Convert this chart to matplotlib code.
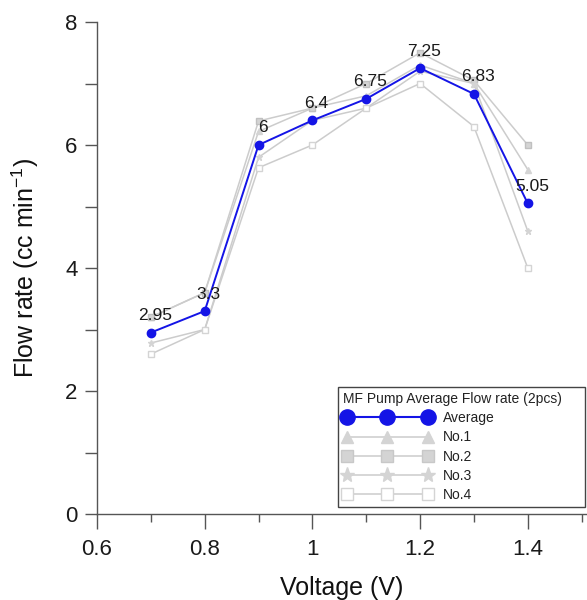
import matplotlib
matplotlib.use("Agg")
import matplotlib.pyplot as plt
from matplotlib.lines import Line2D
from matplotlib.ticker import MultipleLocator

plt.rcParams['font.family'] = ['Liberation Sans', 'DejaVu Sans']
plt.rcParams['mathtext.fontset'] = 'custom'
plt.rcParams['mathtext.rm'] = 'Liberation Sans'

voltage = [0.7, 0.8, 0.9, 1.0, 1.1, 1.2, 1.3, 1.4]
average = [2.95, 3.3, 6.0, 6.4, 6.75, 7.25, 6.83, 5.05]
no1 = [3.2, 3.6, 6.22, 6.6, 6.8, 7.3, 7.0, 5.6]
no2 = [3.2, 3.6, 6.39, 6.6, 7.0, 7.5, 7.05, 6.0]
no3 = [2.78, 3.0, 5.8, 6.4, 6.6, 7.2, 7.0, 4.6]
no4 = [2.6, 3.0, 5.63, 6.0, 6.6, 7.0, 6.3, 4.0]
avg_labels = ["2.95", "3.3", "6", "6.4", "6.75", "7.25", "6.83", "5.05"]
legend_title = "MF Pump Average Flow rate (2pcs)"
names = ["Average", "No.1", "No.2", "No.3", "No.4"]

fig = plt.figure(figsize=(5.87, 6.0), dpi=100)
ax = fig.add_axes([97 / 587, 86 / 600, 490 / 587, 492 / 600])

gline = '#cccccc'
gmark = '#d4d4d4'
blue = '#1414e6'

ax.plot(voltage, no1, color=gline, lw=1.1, marker='^', ms=4, mfc=gmark, mec=gmark, zorder=2)
ax.plot(voltage, no2, color=gline, lw=1.1, marker='s', ms=4, mfc=gmark, mec='#c0c0c0', zorder=2)
ax.plot(voltage, no3, color=gline, lw=1.1, marker='*', ms=5, mfc=gmark, mec=gmark, zorder=2)
ax.plot(voltage, no4, color=gline, lw=1.1, marker='s', ms=4, mfc='white', mec=gmark, zorder=2)
ax.plot(voltage, average, color=blue, lw=1.4, marker='o', ms=6, mfc=blue, mec=blue, zorder=3)

for x, y, t in zip(voltage, average, avg_labels):
    ax.annotate(t, (x, y), xytext=(3, 9), textcoords='offset points',
                ha='center', va='baseline', fontsize=12.5, color='#1a1a1a', zorder=4)

ax.set_xlim(0.6, 1.51)
ax.set_ylim(0, 8)
ax.xaxis.set_major_locator(MultipleLocator(0.2))
ax.xaxis.set_minor_locator(MultipleLocator(0.1))
ax.yaxis.set_major_locator(MultipleLocator(2))
ax.yaxis.set_minor_locator(MultipleLocator(1))
ax.set_xticks([0.6, 0.8, 1.0, 1.2, 1.4])
ax.set_xticklabels(["0.6", "0.8", "1", "1.2", "1.4"])

for s in ['top', 'right']:
    ax.spines[s].set_visible(False)
for s in ['left', 'bottom']:
    ax.spines[s].set_color('#555555')
    ax.spines[s].set_linewidth(1.0)

ax.tick_params(axis='x', which='major', direction='out', length=11, width=1.0,
               color='#555555', labelsize=16, pad=7, labelcolor='#1a1a1a')
ax.tick_params(axis='x', which='minor', direction='out', length=6, width=1.0, color='#555555')
ax.tick_params(axis='y', which='major', direction='out', length=9, width=1.0,
               color='#555555', labelsize=16, pad=5, labelcolor='#1a1a1a')
ax.tick_params(axis='y', which='minor', direction='out', length=9, width=1.0, color='#555555')

ax.set_xlabel("Voltage (V)", fontsize=18, color='#111111')
ax.set_ylabel("Flow rate (cc min$^{\\mathregular{-1}}$)", fontsize=18, color='#111111')
ax.xaxis.set_label_coords(0.5, -0.125)
ax.yaxis.set_label_coords(-0.115, 0.5)

handles = [
    Line2D([], [], color=blue, lw=1.5, marker='o', ms=11, mfc=blue, mec=blue),
    Line2D([], [], color=gline, lw=1.1, marker='^', ms=9, mfc=gmark, mec=gmark),
    Line2D([], [], color=gline, lw=1.1, marker='s', ms=9, mfc=gmark, mec='#c8c8c8'),
    Line2D([], [], color=gline, lw=1.1, marker='*', ms=11, mfc=gmark, mec=gmark),
    Line2D([], [], color=gline, lw=1.1, marker='s', ms=9, mfc='white', mec=gmark),
]
leg = fig.legend(handles, names, title=legend_title, loc='upper left',
                 bbox_to_anchor=(338 / 587, 1 - 387 / 600, 247 / 587, 0.0),
                 bbox_transform=fig.transFigure, mode='expand', borderaxespad=0,
                 fontsize=10, title_fontsize=10, numpoints=3, handlelength=6.4,
                 handletextpad=0.8, labelspacing=0.38, borderpad=0.35,
                 fancybox=False, framealpha=1, edgecolor='#444444', alignment='left')
leg.get_frame().set_linewidth(1.0)
leg._legend_box.align = 'left'
for t in leg.get_texts():
    t.set_color('#222222')
leg.get_title().set_color('#222222')

fig.savefig("out.png", dpi=100)
